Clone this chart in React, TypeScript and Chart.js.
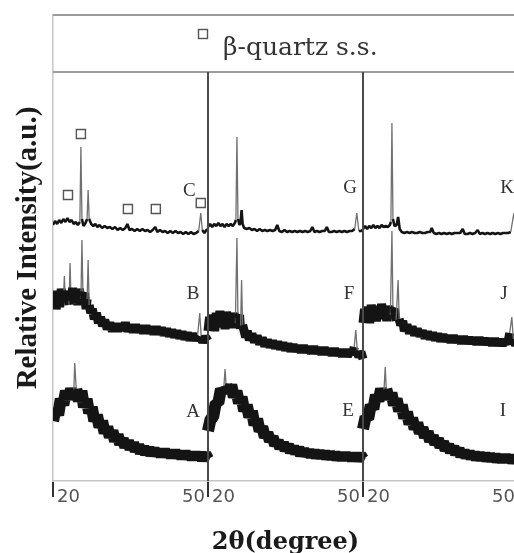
import React, { useEffect, useRef } from "react";
import { Chart, registerables } from "chart.js";

Chart.register(...registerables);

type Pt = [number, number];

// ---- axis / panel definitions ----
const thetaMin = 20;
const panelSpan = 30; // each panel covers 20..50 degrees
const panelCount = 3;
const panelStartTicks = ["20", "20", "20"];
const panelEndTicks = ["50", "50", "50"];
const intensityMax = 466; // top of plotting frame (a.u.)
const headerLevel = 409; // level of the legend strip's lower edge (a.u.)

const yAxisTitle = "Relative Intensity(a.u.)";
const xAxisTitle = "2θ(degree)";
const legendText = "β-quartz s.s.";

// ---- panel 1 ----
const sampleA: Pt[] = [
  [20, 60], [20.5, 72], [21, 66], [21.5, 82], [22, 76], [22.5, 90], [23, 82], [23.5, 92],
  [24, 84], [24.2, 118], [24.5, 92], [25, 80], [25.5, 90], [26, 74], [26.5, 82], [27, 68],
  [27.5, 74], [28, 60], [28.5, 66], [29, 54], [29.5, 60], [30, 48], [30.5, 54], [31, 44],
  [31.5, 50], [32, 40], [32.5, 46], [33, 37], [33.5, 42], [34, 34], [34.5, 40], [35, 32],
  [35.5, 38], [36, 30], [36.5, 36], [37, 28], [37.5, 34], [38, 27], [38.5, 33], [39, 26],
  [39.5, 32], [40, 26], [40.5, 31], [41, 25], [41.5, 31], [42, 25], [42.5, 30], [43, 24],
  [43.5, 30], [44, 24], [44.5, 29], [45, 23], [45.5, 29], [46, 23], [46.5, 28], [47, 22],
  [47.5, 28], [48, 22], [48.5, 28], [49, 21], [49.5, 27], [50, 22],
];
const sampleB: Pt[] = [
  [20, 178], [20.3, 190], [20.6, 172], [21, 186], [21.3, 174], [21.6, 192], [22, 180], [22.2, 205],
  [22.4, 178], [22.8, 190], [23.1, 176], [23.3, 218], [23.5, 180], [23.8, 193], [24.1, 178], [24.5, 190],
  [24.8, 176], [25.1, 192], [25.4, 182], [25.6, 241], [25.8, 184], [26.1, 188], [26.4, 172], [26.6, 182],
  [26.8, 221], [27, 176], [27.3, 168], [27.6, 172], [28, 162], [28.4, 168], [28.8, 158], [29.2, 164],
  [29.6, 155], [30, 161], [30.5, 152], [31, 158], [31.5, 150], [32, 157], [32.5, 150], [33, 157],
  [33.5, 151], [34, 158], [34.5, 150], [35, 156], [35.5, 149], [36, 156], [36.5, 149], [37, 155],
  [37.5, 148], [38, 155], [38.5, 148], [39, 154], [39.5, 147], [40, 154], [40.5, 147], [41, 153],
  [41.5, 146], [42, 152], [42.5, 145], [43, 151], [43.5, 144], [44, 150], [44.5, 143], [45, 149],
  [45.5, 142], [46, 148], [46.5, 141], [47, 147], [47.5, 141], [48, 146], [48.4, 168], [48.7, 143],
  [49, 139], [49.5, 144], [50, 140],
];
const sampleC: Pt[] = [
  [20, 256], [20.4, 260], [20.8, 257], [21.2, 261], [21.6, 258], [22, 262], [22.4, 259], [22.8, 263],
  [23.2, 259], [23.6, 261], [24, 257], [24.4, 259], [24.8, 256], [25.2, 259], [25.4, 334], [25.6, 262],
  [25.9, 255], [26.3, 258], [26.6, 262], [26.8, 291], [27, 262], [27.4, 257], [27.8, 255], [28.2, 257],
  [28.6, 254], [29, 256], [29.5, 253], [30, 255], [30.5, 253], [31, 254], [31.5, 252], [32, 254],
  [32.5, 251], [33, 253], [33.5, 251], [34, 253], [34.4, 257], [34.8, 251], [35.3, 252], [35.8, 250],
  [36.3, 252], [36.8, 250], [37.3, 252], [37.8, 250], [38.3, 251], [38.8, 249], [39.3, 251], [39.8, 254],
  [40.2, 249], [40.7, 251], [41.2, 249], [41.7, 250], [42.2, 248], [42.7, 250], [43.2, 248], [43.7, 250],
  [44.2, 248], [44.7, 249], [45.2, 247], [45.7, 249], [46.2, 247], [46.7, 249], [47.2, 247], [47.7, 248],
  [48.2, 250], [48.6, 268], [48.9, 251], [49.3, 248], [49.7, 251], [50, 252],
];

// ---- panel 2 ----
const sampleE: Pt[] = [
  [20, 50], [20.5, 62], [21, 64], [21.5, 78], [22, 78], [22.5, 92], [23, 88], [23.3, 112],
  [23.5, 96], [24, 88], [24.5, 96], [25, 84], [25.5, 90], [26, 78], [26.5, 84], [27, 70],
  [27.5, 76], [28, 64], [28.5, 70], [29, 56], [29.5, 62], [30, 50], [30.5, 54], [31, 44],
  [31.5, 48], [32, 40], [32.5, 44], [33, 36], [33.5, 40], [34, 33], [34.5, 38], [35, 31],
  [35.5, 36], [36, 29], [36.5, 34], [37, 28], [37.5, 33], [38, 26], [38.5, 31], [39, 26],
  [39.5, 30], [40, 25], [40.5, 30], [41, 24], [41.5, 29], [42, 24], [42.5, 29], [43, 23],
  [43.5, 28], [44, 23], [44.5, 28], [45, 22], [45.5, 27], [46, 22], [46.5, 27], [47, 22],
  [47.5, 27], [48, 21], [48.5, 27], [49, 21], [49.5, 26], [50, 22],
];
const sampleF: Pt[] = [
  [20, 150], [20.3, 164], [20.6, 152], [21, 166], [21.3, 150], [21.6, 168], [22, 154], [22.3, 170],
  [22.6, 155], [23, 167], [23.3, 152], [23.6, 169], [24, 156], [24.3, 166], [24.6, 153], [25, 168],
  [25.3, 158], [25.6, 243], [25.8, 162], [26.1, 166], [26.3, 152], [26.5, 201], [26.7, 156], [27, 150],
  [27.3, 144], [27.6, 150], [28, 141], [28.5, 147], [29, 139], [29.5, 145], [30, 137], [30.5, 143],
  [31, 135], [31.5, 141], [32, 134], [32.5, 140], [33, 133], [33.5, 139], [34, 132], [34.5, 138],
  [35, 131], [35.5, 137], [36, 130], [36.5, 136], [37, 130], [37.5, 135], [38, 129], [38.5, 135],
  [39, 129], [39.5, 134], [40, 128], [40.5, 134], [41, 128], [41.5, 133], [42, 127], [42.5, 133],
  [43, 127], [43.5, 132], [44, 126], [44.5, 132], [45, 126], [45.5, 131], [46, 125], [46.5, 131],
  [47, 125], [47.5, 130], [48, 127], [48.3, 134], [48.6, 151], [48.9, 130], [49.2, 124], [49.6, 129],
  [50, 122],
];
const sampleG: Pt[] = [
  [20, 254], [20.4, 257], [20.8, 254], [21.2, 257], [21.6, 255], [22, 258], [22.4, 255], [22.8, 257],
  [23.2, 254], [23.6, 257], [24, 255], [24.4, 257], [24.8, 255], [25.2, 258], [25.4, 261], [25.6, 344],
  [25.8, 262], [26.1, 256], [26.3, 258], [26.5, 271], [26.7, 257], [27, 253], [27.5, 252], [28, 253],
  [28.5, 251], [29, 252], [29.5, 250], [30, 252], [30.5, 250], [31, 251], [31.5, 250], [32, 251],
  [32.5, 250], [33, 251], [33.4, 256], [33.8, 250], [34.3, 249], [34.8, 251], [35.3, 249], [35.8, 250],
  [36.3, 249], [36.8, 250], [37.3, 249], [37.8, 250], [38.3, 249], [38.8, 250], [39.3, 249], [39.8, 250],
  [40.2, 254], [40.6, 249], [41.1, 250], [41.6, 249], [42.1, 250], [42.6, 250], [43, 254], [43.4, 249],
  [43.9, 249], [44.4, 250], [44.9, 249], [45.4, 250], [45.9, 249], [46.4, 250], [46.9, 249], [47.4, 250],
  [47.9, 250], [48.4, 252], [48.8, 268], [49.2, 250], [49.6, 250], [50, 251],
];

// ---- panel 3 ----
const sampleI: Pt[] = [
  [20, 52], [20.5, 64], [21, 62], [21.5, 76], [22, 72], [22.5, 86], [23, 80], [23.5, 92],
  [24, 84], [24.3, 114], [24.5, 92], [25, 82], [25.5, 88], [26, 76], [26.5, 82], [27, 70],
  [27.5, 76], [28, 63], [28.5, 69], [29, 57], [29.5, 63], [30, 52], [30.5, 58], [31, 48],
  [31.5, 53], [32, 44], [32.5, 49], [33, 40], [33.5, 45], [34, 37], [34.5, 42], [35, 34],
  [35.5, 39], [36, 31], [36.5, 36], [37, 29], [37.5, 34], [38, 27], [38.5, 32], [39, 25],
  [39.5, 30], [40, 24], [40.5, 29], [41, 23], [41.5, 28], [42, 22], [42.5, 27], [43, 22],
  [43.5, 27], [44, 21], [44.5, 26], [45, 21], [45.5, 26], [46, 20], [46.5, 25], [47, 20],
  [47.5, 25], [48, 20], [48.5, 25], [49, 19], [49.5, 24], [50, 20],
];
const sampleJ: Pt[] = [
  [20, 158], [20.3, 172], [20.6, 160], [21, 174], [21.3, 158], [21.6, 176], [22, 162], [22.3, 175],
  [22.6, 160], [23, 174], [23.3, 162], [23.6, 177], [24, 163], [24.3, 174], [24.6, 160], [25, 175],
  [25.3, 166], [25.6, 250], [25.8, 170], [26.1, 172], [26.4, 160], [26.8, 201], [27, 162], [27.3, 156],
  [27.7, 160], [28, 150], [28.5, 156], [29, 148], [29.5, 154], [30, 146], [30.5, 152], [31, 145],
  [31.5, 150], [32, 143], [32.5, 149], [33, 142], [33.5, 148], [34, 141], [34.5, 147], [35, 140],
  [35.5, 146], [36, 140], [36.5, 145], [37, 139], [37.5, 145], [38, 139], [38.5, 144], [39, 138],
  [39.5, 144], [40, 138], [40.5, 143], [41, 138], [41.5, 143], [42, 137], [42.5, 143], [43, 137],
  [43.5, 142], [44, 137], [44.5, 142], [45, 136], [45.5, 142], [46, 136], [46.5, 141], [47, 136],
  [47.5, 141], [48, 137], [48.4, 148], [48.8, 164], [49.1, 142], [49.5, 136], [50, 140],
];
const sampleK: Pt[] = [
  [20, 252], [20.4, 255], [20.8, 252], [21.2, 255], [21.6, 253], [22, 256], [22.4, 253], [22.8, 255],
  [23.2, 253], [23.6, 256], [24, 254], [24.4, 255], [24.8, 254], [25.2, 256], [25.4, 259], [25.6, 358],
  [25.8, 262], [26.1, 255], [26.5, 256], [26.8, 264], [27.1, 252], [27.5, 249], [28, 248], [28.5, 249],
  [29, 248], [29.5, 249], [30, 248], [30.5, 248], [31, 249], [31.5, 248], [32, 248], [32.5, 249],
  [33, 249], [33.3, 253], [33.7, 248], [34.2, 247], [34.7, 248], [35.2, 247], [35.7, 248], [36.2, 247],
  [36.7, 248], [37.2, 247], [37.7, 248], [38.2, 248], [38.8, 248], [39.3, 252], [39.7, 247], [40.2, 247],
  [40.7, 248], [41.2, 247], [41.7, 248], [42.2, 251], [42.6, 247], [43.1, 248], [43.6, 247], [44.1, 248],
  [44.6, 247], [45.1, 248], [45.6, 247], [46.1, 248], [46.6, 247], [47.1, 248], [47.6, 248], [48.1, 248],
  [48.6, 249], [49.2, 268], [49.6, 248], [50, 248],
];

// β-quartz solid solution reflections marked on pattern C
const quartzTheta = [22.9, 25.4, 34.5, 39.9, 48.6];
const quartzLevel = [286, 347, 272, 272, 278];

type Kind = "amorphous" | "mixed" | "crystal";
const traces: { name: string; panel: number; kind: Kind; data: Pt[]; labelAt: Pt }[] = [
  { name: "A", panel: 0, kind: "amorphous", data: sampleA, labelAt: [47.1, 69] },
  { name: "B", panel: 0, kind: "mixed", data: sampleB, labelAt: [47.1, 187] },
  { name: "C", panel: 0, kind: "crystal", data: sampleC, labelAt: [46.4, 290] },
  { name: "E", panel: 1, kind: "amorphous", data: sampleE, labelAt: [47.1, 70] },
  { name: "F", panel: 1, kind: "mixed", data: sampleF, labelAt: [47.3, 187] },
  { name: "G", panel: 1, kind: "crystal", data: sampleG, labelAt: [47.5, 293] },
  { name: "I", panel: 2, kind: "amorphous", data: sampleI, labelAt: [47.1, 70] },
  { name: "J", panel: 2, kind: "mixed", data: sampleJ, labelAt: [47.3, 187] },
  { name: "K", panel: 2, kind: "crystal", data: sampleK, labelAt: [47.9, 293] },
];

const lineWidthByKind: Record<Kind, number> = { amorphous: 12, mixed: 9, crystal: 2.6 };

const toX = (panel: number, theta: number) => theta + panel * panelSpan;

// a point is a sharp reflection apex if it stands well above both neighbours
const apexFlags = traces.map((t) =>
  t.data.map(
    ([, v], i) => i > 0 && i < t.data.length - 1 && v - Math.max(t.data[i - 1][1], t.data[i + 1][1]) > 15
  )
);
const isSharp = (c: any) => {
  const f = apexFlags[c.datasetIndex];
  return !!f && (f[c.p0DataIndex] || f[c.p1DataIndex]);
};

const decorPlugin = {
  id: "decor",
  afterDatasetsDraw(chart: any) {
    const { ctx, chartArea } = chart;
    const xs = chart.scales.x;
    const ys = chart.scales.y;
    const hy = ys.getPixelForValue(headerLevel);
    ctx.save();
    // legend strip
    ctx.strokeStyle = "#9c9c9c";
    ctx.lineWidth = 2;
    ctx.beginPath();
    ctx.moveTo(chartArea.left, chartArea.top);
    ctx.lineTo(chartArea.right, chartArea.top);
    ctx.moveTo(chartArea.left, hy);
    ctx.lineTo(chartArea.right, hy);
    ctx.stroke();
    // panel dividers
    ctx.strokeStyle = "#4a4a4a";
    ctx.lineWidth = 2;
    ctx.beginPath();
    for (let p = 1; p <= panelCount; p++) {
      const x = Math.round(xs.getPixelForValue(thetaMin + p * panelSpan));
      ctx.moveTo(x, hy);
      ctx.lineTo(x, chartArea.bottom);
    }
    ctx.stroke();
    // legend entry
    ctx.font = '25px "DejaVu Serif"';
    const tw = ctx.measureText(legendText).width;
    const box = 9;
    const gap = 16;
    const total = box + gap + tw;
    const cx = (chartArea.left + chartArea.right) / 2 + 2;
    const sx = Math.round(cx - total / 2);
    ctx.strokeStyle = "#555";
    ctx.lineWidth = 1.4;
    ctx.strokeRect(sx + 0.5, chartArea.top + 14.5, box, box);
    ctx.fillStyle = "#333";
    ctx.textAlign = "left";
    ctx.textBaseline = "alphabetic";
    ctx.fillText(legendText, sx + box + gap, chartArea.top + 40);
    // pattern labels
    ctx.font = '19px "Liberation Serif"';
    ctx.fillStyle = "#333";
    ctx.textAlign = "center";
    ctx.textBaseline = "middle";
    for (const t of traces) {
      ctx.fillText(t.name, xs.getPixelForValue(toX(t.panel, t.labelAt[0])), ys.getPixelForValue(t.labelAt[1]));
    }
    ctx.restore();
  },
};

export default function App() {
  const ref = useRef<HTMLCanvasElement>(null);
  useEffect(() => {
    document.body.style.margin = "0";
    document.body.style.overflow = "hidden";
    const canvas = ref.current;
    if (!canvas) return;

    const datasets: any[] = traces.map((t) => ({
      label: t.name,
      data: t.data.map(([th, v]) => ({ x: toX(t.panel, th), y: v })),
      borderColor: "#141414",
      borderWidth: lineWidthByKind[t.kind],
      borderJoinStyle: "bevel",
      borderCapStyle: "butt",
      pointRadius: 0,
      tension: 0,
      fill: false,
      segment: {
        borderWidth: (c: any) => (isSharp(c) ? 1.3 : undefined),
        borderColor: (c: any) => (isSharp(c) ? "#707070" : undefined),
      },
    }));
    datasets.push({
      label: legendText,
      data: quartzTheta.map((th, i) => ({ x: toX(0, th), y: quartzLevel[i] })),
      showLine: false,
      pointStyle: "rect",
      pointRadius: 6.4,
      pointBorderWidth: 1.4,
      pointBorderColor: "#555",
      pointBackgroundColor: "rgba(255,255,255,0)",
    });

    const tickFont = { family: '"DejaVu Sans"', size: 18 };
    const chart = new Chart(canvas, {
      type: "line",
      data: { datasets },
      plugins: [decorPlugin],
      options: {
        responsive: false,
        animation: false,
        events: [],
        layout: { padding: { left: 0, right: 12, top: 15, bottom: 0 } },
        plugins: { legend: { display: false }, tooltip: { enabled: false }, title: { display: false } },
        scales: {
          x: {
            type: "linear",
            position: "bottom",
            weight: 1,
            min: thetaMin,
            max: thetaMin + panelCount * panelSpan,
            afterBuildTicks: (s: any) => {
              s.ticks = panelStartTicks.map((_, p) => ({ value: thetaMin + p * panelSpan }));
            },
            afterFit: (s: any) => {
              s.height = 72;
            },
            ticks: {
              autoSkip: false,
              maxRotation: 0,
              minRotation: 0,
              align: "start",
              labelOffset: 4,
              padding: -10,
              color: "#555",
              font: tickFont,
              callback: (_v: any, i: number) => panelStartTicks[i],
            },
            grid: { drawOnChartArea: false, drawTicks: true, tickLength: 16, color: "#333", lineWidth: 2 },
            border: { display: true, color: "#c6c6c6", width: 1.5 },
            title: {
              display: true,
              text: xAxisTitle,
              color: "#1a1a1a",
              font: { family: '"DejaVu Serif"', size: 24, weight: "bold" },
              padding: { top: 0, bottom: -4 },
            },
          },
          x2: {
            type: "linear",
            display: true,
            position: "bottom",
            weight: 0,
            min: thetaMin,
            max: thetaMin + panelCount * panelSpan,
            afterBuildTicks: (s: any) => {
              s.ticks = panelEndTicks.map((_, p) => ({ value: thetaMin + (p + 1) * panelSpan }));
            },
            afterFit: (s: any) => {
              s.height = 0;
            },
            ticks: {
              autoSkip: false,
              mirror: true,
              maxRotation: 0,
              minRotation: 0,
              align: "end",
              labelOffset: -3,
              padding: -27,
              color: "#555",
              font: tickFont,
              callback: (_v: any, i: number) => panelEndTicks[i],
            },
            grid: { display: false, drawTicks: true, tickLength: 16 },
            border: { display: false },
          },
          y: {
            type: "linear",
            position: "left",
            min: 0,
            max: intensityMax,
            afterFit: (s: any) => {
              s.width = 53;
            },
            ticks: { display: false },
            grid: { display: false, drawTicks: false },
            border: { display: true, color: "#c6c6c6", width: 1.5 },
            title: {
              display: true,
              text: yAxisTitle,
              color: "#1a1a1a",
              font: { family: '"Liberation Serif"', size: 29, weight: "bold" },
              padding: { top: 11, bottom: 0 },
            },
          },
        },
      } as any,
    });
    return () => chart.destroy();
  }, []);

  return (
    <div
      style={{
        position: "fixed",
        left: 0,
        top: 0,
        width: 514,
        height: 553,
        overflow: "hidden",
        background: "#fff",
      }}
    >
      <canvas ref={ref} width={530} height={553} style={{ width: 530, height: 553, display: "block" }} />
    </div>
  );
}
